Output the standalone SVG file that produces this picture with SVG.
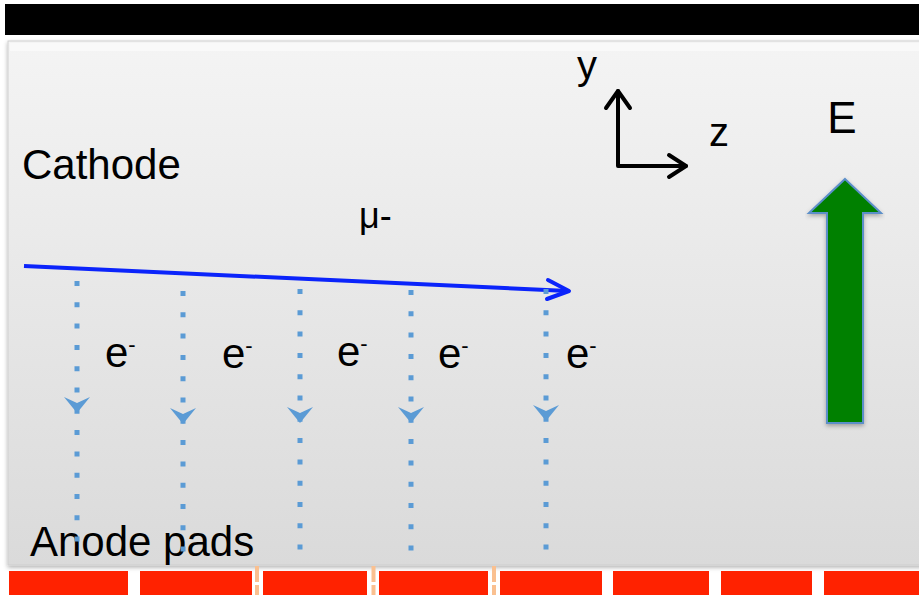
<svg xmlns="http://www.w3.org/2000/svg" width="919" height="595" viewBox="0 0 919 595">
<style>
.t{font-family:"Liberation Sans",Arial,sans-serif;fill:#000}
.drift{stroke:#5b9bd5;stroke-width:5;stroke-dasharray:5 16.3;fill:none}
.ah{fill:#5b9bd5}
.pad{fill:#ff2200}
.div{stroke:#fac090;stroke-width:4;stroke-dasharray:16 3}
.ax{stroke:#000;stroke-width:4;fill:none;stroke-linecap:round;stroke-linejoin:round}
</style>
<defs>
<linearGradient id="pg" x1="0" y1="0" x2="0" y2="1">
<stop offset="0" stop-color="#f4f4f4"/>
<stop offset="1" stop-color="#dadada"/>
</linearGradient>
<filter id="sh" x="-5%" y="-5%" width="110%" height="110%">
<feDropShadow dx="0" dy="2" stdDeviation="2" flood-color="#000" flood-opacity="0.3"/>
</filter>
</defs>
<rect width="919" height="595" fill="#fff"/>
<g id="top-plate">
<rect x="5" y="4" width="920" height="31" fill="#000"/>
</g>
<g id="chamber">
<rect x="8" y="41" width="920" height="524" fill="url(#pg)" stroke="#cfcfcf" stroke-width="1" filter="url(#sh)"/>
<rect x="10" y="43" width="916" height="8" fill="#fbfbfb" opacity="0.7"/>
</g>
<g id="anode-pads">
<rect class="pad" x="9" y="571" width="119" height="24"/>
<rect class="pad" x="140" y="571" width="112" height="24"/>
<rect class="pad" x="263" y="571" width="104" height="24"/>
<rect class="pad" x="379" y="571" width="109" height="24"/>
<rect class="pad" x="500" y="571" width="102" height="24"/>
<rect class="pad" x="613" y="571" width="96" height="24"/>
<rect class="pad" x="721" y="571" width="91" height="24"/>
<rect class="pad" x="824" y="571" width="95" height="24"/>
<line class="div" x1="257" y1="566" x2="257" y2="595"/>
<line class="div" x1="373.5" y1="566" x2="373.5" y2="595"/>
<line class="div" x1="494" y1="566" x2="494" y2="595"/>
</g>
<g id="labels">
<text class="t" x="22" y="179" font-size="42">Cathode</text>
<text class="t" x="30" y="556" font-size="42">Anode pads</text>
<text class="t" x="359" y="228" font-size="36">μ-</text>
<text class="t" x="105" y="367" font-size="42">e<tspan dy="-15" font-size="22">-</tspan></text>
<text class="t" x="222" y="368" font-size="42">e<tspan dy="-15" font-size="22">-</tspan></text>
<text class="t" x="337" y="366" font-size="42">e<tspan dy="-15" font-size="22">-</tspan></text>
<text class="t" x="438" y="368" font-size="42">e<tspan dy="-15" font-size="22">-</tspan></text>
<text class="t" x="566" y="368" font-size="42">e<tspan dy="-15" font-size="22">-</tspan></text>
<text class="t" x="842" y="133" font-size="44" text-anchor="middle">E</text>
<text class="t" x="577" y="79" font-size="40">y</text>
<text class="t" x="709" y="146" font-size="40">z</text>
</g>
<g id="axes">
<polyline class="ax" points="618,91 618,166 686,166"/>
<polyline class="ax" points="606,108 618,91 630,108"/>
<polyline class="ax" points="669,155 686,166 669,177"/>
</g>
<g id="e-field">
<polygon points="845,179 881,213 863,213 863,423 827,423 827,213 809,213" fill="#008000" stroke="#5b8fc9" stroke-width="2" filter="url(#sh)"/>
</g>
<g id="connectors">
<g id="muon">
<line x1="24" y1="266" x2="568" y2="291" stroke="#0b24fb" stroke-width="4"/>
<polyline points="548,280 569,291 547,299" stroke="#0b24fb" stroke-width="4" fill="none" stroke-linecap="round" stroke-linejoin="round"/>
</g>
<line class="drift" x1="77" y1="281" x2="77" y2="552"/>
<polygon class="ah" points="64,397 77,403 90,397 77,413"/>
<line class="drift" x1="183" y1="291" x2="183" y2="556"/>
<polygon class="ah" points="170,408 183,414 196,408 183,424"/>
<line class="drift" x1="300" y1="289" x2="300" y2="562"/>
<polygon class="ah" points="287,407 300,413 313,407 300,423"/>
<line class="drift" x1="411" y1="290" x2="411" y2="557"/>
<polygon class="ah" points="398,407 411,413 424,407 411,423"/>
<line class="drift" x1="546" y1="289" x2="546" y2="554"/>
<polygon class="ah" points="533,405 546,411 559,405 546,421"/>
</g>
</svg>
